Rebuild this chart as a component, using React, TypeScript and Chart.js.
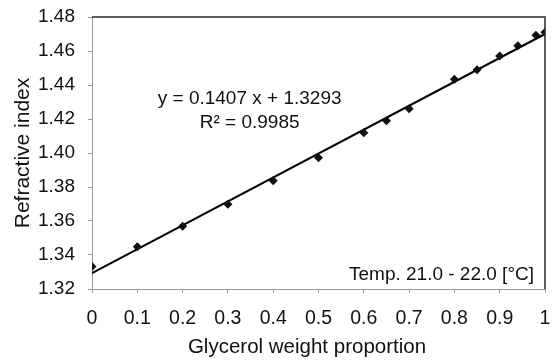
import React, { useEffect, useRef } from "react";
import { Chart, registerables } from "chart.js";

Chart.register(...registerables);

// Glycerol weight proportion vs. measured refractive index
const proportions = [0, 0.1, 0.2, 0.3, 0.4, 0.5, 0.6, 0.65, 0.7, 0.8, 0.85, 0.9, 0.94, 0.98, 1.0];
const refractiveIndex = [
  1.3333, 1.3449, 1.3569, 1.3698, 1.3837, 1.3972, 1.4119, 1.419, 1.426, 1.4434, 1.449, 1.457, 1.4631,
  1.4692, 1.471,
];

// Linear fit
const slope = 0.1407;
const intercept = 1.3293;
const rSquared = 0.9985;
const fitRange = [0, 1];

const yTicks = [1.32, 1.34, 1.36, 1.38, 1.4, 1.42, 1.44, 1.46, 1.48];
const xTicks = [0, 0.1, 0.2, 0.3, 0.4, 0.5, 0.6, 0.7, 0.8, 0.9, 1];

const xTitle = "Glycerol weight proportion";
const yTitle = "Refractive index";
const tempNote = "Temp. 21.0 - 22.0 [°C]";

const FONT = "'Liberation Sans', Arial, Helvetica, sans-serif";

const framePlugin = {
  id: "frameAndNotes",
  afterDraw(chart: any) {
    const { ctx, chartArea, scales } = chart;
    const { left, right, top, bottom } = chartArea;
    ctx.save();
    // top and right border of the plot area
    ctx.strokeStyle = "#2a2a2a";
    ctx.lineWidth = 1.5;
    ctx.beginPath();
    ctx.moveTo(left, top);
    ctx.lineTo(right, top);
    ctx.lineTo(right, bottom);
    ctx.stroke();

    ctx.fillStyle = "#111";
    ctx.font = `19px ${FONT}`;
    ctx.textAlign = "center";
    ctx.textBaseline = "middle";
    const ex = scales.x.getPixelForValue(0.348);
    ctx.fillText(`y = ${slope.toFixed(4)} x + ${intercept.toFixed(4)}`, ex, scales.y.getPixelForValue(1.4318));
    ctx.fillText(`R² = ${rSquared.toFixed(4)}`, ex, scales.y.getPixelForValue(1.418));

    ctx.textAlign = "right";
    ctx.fillText(tempNote, right - 11, bottom - 14);

    // x-axis title, set slightly left of the plot centre
    ctx.font = `20.5px ${FONT}`;
    ctx.textAlign = "center";
    ctx.fillText(xTitle, (left + right) / 2 - 11.5, chart.height - 13.5);
    ctx.restore();
  },
};

const noScalePadding = (s: any) => {
  s.paddingLeft = 0;
  s.paddingRight = 0;
  s.paddingTop = 0;
  s.paddingBottom = 0;
};

export default function App() {
  const canvasRef = useRef<HTMLCanvasElement | null>(null);

  useEffect(() => {
    if (!canvasRef.current) return;
    const points = proportions.map((x, i) => ({ x, y: refractiveIndex[i] }));
    const fitLine = fitRange.map((x) => ({ x, y: slope * x + intercept }));

    const chart = new Chart(canvasRef.current, {
      type: "scatter",
      data: {
        datasets: [
          {
            label: "Fit",
            data: fitLine,
            showLine: true,
            borderColor: "#000",
            borderWidth: 2,
            pointRadius: 0,
            order: 2,
          },
          {
            label: "Measured",
            data: points,
            pointStyle: "rectRot",
            pointRadius: 4.5,
            backgroundColor: "#111",
            borderColor: "#111",
            borderWidth: 0,
            order: 1,
          },
        ],
      },
      options: {
        responsive: false,
        animation: false,
        layout: { padding: { top: 17, right: 9, left: 0, bottom: 0 } },
        plugins: {
          legend: { display: false },
          tooltip: { enabled: false },
        },
        scales: {
          x: {
            type: "linear",
            min: 0,
            max: 1,
            afterFit: (s: any) => {
              s.height = 72;
              noScalePadding(s);
            },
            afterBuildTicks: (s: any) => {
              s.ticks = xTicks.map((value) => ({ value }));
            },
            ticks: {
              color: "#111",
              font: { family: FONT, size: 19.5 },
              padding: 14,
              maxRotation: 0,
              autoSkip: false,
              callback: (v: any) => String(Number(Number(v).toFixed(1))),
            },
            grid: { drawOnChartArea: false, drawTicks: true, tickLength: 4, color: "#999" },
            border: { color: "#999", dash: [1, 1], width: 1 },
            title: { display: false },
          },
          y: {
            type: "linear",
            min: 1.32,
            max: 1.48,
            afterFit: (s: any) => {
              s.width = 92;
              noScalePadding(s);
            },
            afterBuildTicks: (s: any) => {
              s.ticks = yTicks.map((value) => ({ value }));
            },
            ticks: {
              color: "#111",
              font: { family: FONT, size: 19 },
              padding: 13,
              autoSkip: false,
              callback: (v: any) => Number(v).toFixed(2),
            },
            grid: { drawOnChartArea: false, drawTicks: true, tickLength: 4, color: "#999" },
            border: { color: "#999", dash: [1, 1], width: 1 },
            title: {
              display: true,
              text: yTitle,
              color: "#111",
              font: { family: FONT, size: 21 },
              padding: { top: 11, bottom: 0 },
            },
          },
        },
      },
      plugins: [framePlugin],
    });
    return () => chart.destroy();
  }, []);

  return (
    <div style={{ position: "fixed", left: 0, top: 0, width: 554, height: 361, background: "#fff" }}>
      <canvas ref={canvasRef} width={554} height={361} />
    </div>
  );
}
